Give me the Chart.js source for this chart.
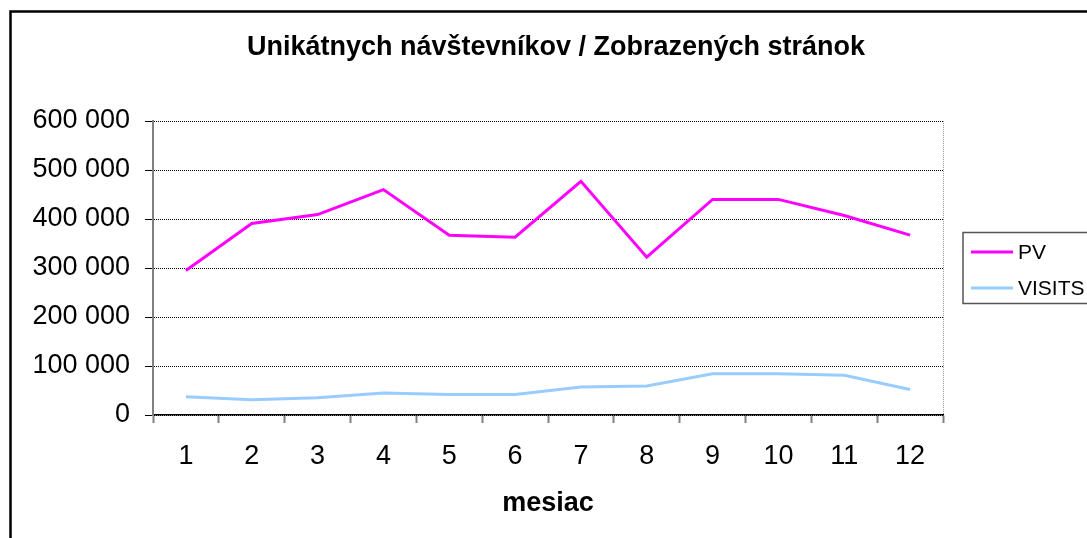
<!DOCTYPE html>
<html>
<head>
<meta charset="utf-8">
<script src="https://cdn.jsdelivr.net/npm/chart.js@4/dist/chart.umd.min.js"></script>
<style>
  html, body { margin: 0; padding: 0; background: #fff; }
  #wrap { width: 1087px; height: 538px; position: relative; }
</style>
</head>
<body>
<div id="wrap"><canvas id="c" width="1087" height="538"></canvas></div>
<script>
const titleText = 'Unikátnych návštevníkov / Zobrazených stránok';
const xTitle = 'mesiac';
const categories = ['1','2','3','4','5','6','7','8','9','10','11','12'];
const pvValues = [295000, 391000, 409000, 460000, 367000, 363000, 477000, 322000, 440000, 440000, 407000, 367000];
const visitsValues = [37000, 31000, 35000, 45000, 42000, 42000, 57000, 59000, 84000, 84000, 81000, 52000];
const yMin = 0, yMax = 600000, yStep = 100000;
const seriesNames = ['PV', 'VISITS'];

const FONT = '"Liberation Sans", Arial, sans-serif';

function fmt(v) {
  return String(v).replace(/\B(?=(\d{3})+(?!\d))/g, ' ');
}

const decor = {
  id: 'decor',
  afterDraw(chart) {
    const ctx = chart.ctx;
    const a = chart.chartArea;
    ctx.save();
    // right dotted border of plot area
    ctx.strokeStyle = '#999';
    ctx.lineWidth = 1;
    ctx.setLineDash([1, 1]);
    ctx.beginPath();
    ctx.moveTo(a.right + 0.5, a.top);
    ctx.lineTo(a.right + 0.5, a.bottom);
    ctx.stroke();
    ctx.setLineDash([]);

    // title
    ctx.fillStyle = '#000';
    ctx.font = 'bold 27px ' + FONT;
    ctx.textAlign = 'center';
    ctx.textBaseline = 'alphabetic';
    ctx.fillText(titleText, 556, 55);
    // x axis title
    ctx.fillText(xTitle, (a.left + a.right) / 2, 511);

    // legend
    ctx.strokeStyle = '#555';
    ctx.lineWidth = 1.5;
    ctx.strokeRect(963, 232.5, 200, 71);
    ctx.font = '21px ' + FONT;
    ctx.textAlign = 'left';
    ctx.textBaseline = 'middle';
    const ys = [252, 288];
    chart.data.datasets.forEach((ds, i) => {
      ctx.strokeStyle = ds.borderColor;
      ctx.lineWidth = 3;
      ctx.beginPath();
      ctx.moveTo(971, ys[i]);
      ctx.lineTo(1013, ys[i]);
      ctx.stroke();
      ctx.fillStyle = '#000';
      ctx.fillText(ds.label, 1018, ys[i] + 1);
    });

    // outer border
    ctx.strokeStyle = '#000';
    ctx.lineWidth = 2.5;
    ctx.beginPath();
    ctx.moveTo(10.5, 600);
    ctx.lineTo(10.5, 11.5);
    ctx.lineTo(1200, 11.5);
    ctx.stroke();
    ctx.restore();
  }
};

new Chart(document.getElementById('c'), {
  type: 'line',
  data: {
    labels: categories,
    datasets: [
      { label: seriesNames[0], data: pvValues, borderColor: '#FF00FF', backgroundColor: '#FF00FF', borderWidth: 3, pointRadius: 0, tension: 0, fill: false },
      { label: seriesNames[1], data: visitsValues, borderColor: '#99CCFF', backgroundColor: '#99CCFF', borderWidth: 3, pointRadius: 0, tension: 0, fill: false }
    ]
  },
  options: {
    responsive: false,
    animation: false,
    devicePixelRatio: 1,
    layout: { padding: { left: 0, right: 144, top: 121, bottom: 0 } },
    plugins: { legend: { display: false }, title: { display: false }, tooltip: { enabled: false } },
    scales: {
      x: {
        type: 'category',
        offset: true,
        afterFit(s) { s.height = 123; },
        grid: { offset: true, drawOnChartArea: false, drawTicks: true, tickLength: 8, tickColor: '#808080', tickWidth: 2 },
        border: { display: true, color: '#000', width: 1.5 },
        ticks: { color: '#000', font: { family: FONT, size: 27 }, padding: 17, maxRotation: 0, autoSkip: false }
      },
      y: {
        min: yMin, max: yMax,
        afterFit(s) { s.width = 153; },
        grid: { color: '#000', lineWidth: 1, drawTicks: true, tickLength: 8, tickColor: '#000', tickWidth: 1 },
        border: { display: true, color: '#808080', width: 2, dash: [1, 1] },
        ticks: { stepSize: yStep, color: '#000', font: { family: FONT, size: 27 }, padding: 15, callback: v => fmt(v) }
      }
    }
  },
  plugins: [decor]
});
</script>
</body>
</html>
